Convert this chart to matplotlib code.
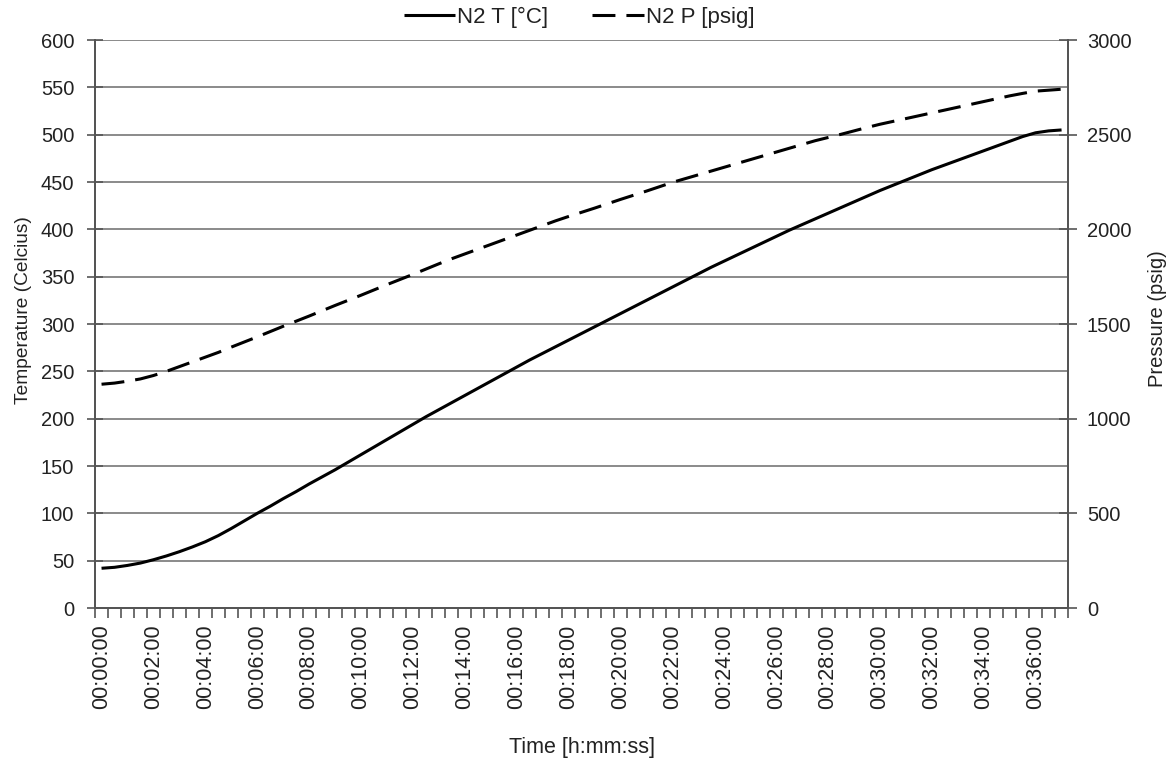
import matplotlib.pyplot as plt
from matplotlib.ticker import MultipleLocator, FixedLocator

plt.rcParams['font.family'] = ['Liberation Sans', 'DejaVu Sans']

# N2 temperature [°C], one reading every 30 s from 00:00:00 to 00:37:00
n2_temp = [42, 43, 45, 47.5, 51, 55, 59.5, 64.5, 70, 76.5,
           84, 92, 100, 107.5, 115.5, 123, 131, 138.5, 146, 154,
           162, 170, 178, 186, 194, 202, 209.5, 217, 224.5, 232,
           239.5, 247, 254.5, 262, 269, 276, 283, 290, 297, 304,
           311, 318, 325, 332, 339, 346, 353, 360, 366.5, 373,
           379.5, 386, 392.5, 399, 405, 411, 417, 423, 429, 435,
           441, 446.5, 452, 457.5, 463, 468, 473, 478, 483, 488,
           493, 498, 502, 504, 505]

# N2 pressure [psig], same time steps
n2_pres = [1182, 1188, 1198, 1210, 1228, 1250, 1275, 1300, 1325, 1350,
           1378, 1405, 1432, 1460, 1488, 1515, 1542, 1570, 1598, 1625,
           1652, 1680, 1708, 1735, 1762, 1790, 1818, 1845, 1870, 1895,
           1920, 1945, 1970, 1995, 2020, 2045, 2068, 2090, 2112, 2135,
           2158, 2180, 2202, 2225, 2248, 2268, 2288, 2308, 2328, 2348,
           2368, 2388, 2408, 2428, 2448, 2468, 2485, 2502, 2520, 2538,
           2555, 2570, 2585, 2600, 2615, 2630, 2645, 2660, 2675, 2690,
           2705, 2718, 2730, 2735, 2740]

time_labels = ['00:00:00', '00:02:00', '00:04:00', '00:06:00', '00:08:00',
               '00:10:00', '00:12:00', '00:14:00', '00:16:00', '00:18:00',
               '00:20:00', '00:22:00', '00:24:00', '00:26:00', '00:28:00',
               '00:30:00', '00:32:00', '00:34:00', '00:36:00']
label_every = 4  # one label every 2 minutes (4 samples)

fs = 14.5
txt = '#222222'
axc = '#555555'

fig = plt.figure(figsize=(11.72, 7.65), dpi=100)
ax = fig.add_axes([0.0811, 0.2052, 0.8302, 0.7425])
ax2 = ax.twinx()

x = list(range(len(n2_temp)))
l1, = ax.plot(x, n2_temp, color='black', lw=2.2, solid_capstyle='butt', label='N2 T [°C]')
l2, = ax2.plot(x, n2_pres, color='black', lw=2.2, label='N2 P [psig]')
l2.set_dashes((7.5, 3.6))

ax.set_xlim(-0.5, len(n2_temp) - 0.5)
ax.set_ylim(0, 600)
ax2.set_ylim(0, 3000)
ax.yaxis.set_major_locator(MultipleLocator(50))
ax2.yaxis.set_major_locator(MultipleLocator(500))

ax.set_xticks([i * label_every for i in range(len(time_labels))])
ax.set_xticklabels(time_labels, rotation=90, fontsize=15.5, color=txt)
ax.xaxis.set_minor_locator(FixedLocator([i - 0.5 for i in range(len(n2_temp) + 1)]))
ax.tick_params(axis='x', which='major', length=0, pad=12)
ax.tick_params(axis='x', which='minor', length=7, width=1.2, color=axc, direction='out')
ax.tick_params(axis='y', which='major', length=12, width=1.2, color=axc,
               direction='inout', labelsize=fs, labelcolor=txt, pad=9)
ax2.tick_params(axis='y', which='major', length=13, width=1.2, color=axc,
                direction='inout', labelsize=fs, labelcolor=txt, pad=7)

ax.grid(axis='y', color='#8a8a8a', lw=1.4)
ax.set_axisbelow(True)

for a in (ax, ax2):
    a.spines['top'].set_visible(False)
    for s in ('left', 'right', 'bottom'):
        a.spines[s].set_color(axc)
        a.spines[s].set_linewidth(1.4)

ax.set_ylabel('Temperature (Celcius)', fontsize=13.8, color=txt)
ax.yaxis.set_label_coords(-0.0647, 0.525)
ax2.set_ylabel('Pressure (psig)', fontsize=fs, color=txt)
ax2.yaxis.set_label_coords(1.0822, 0.509)
ax.set_xlabel('Time [h:mm:ss]', fontsize=15.5, color=txt, labelpad=20)

fig.legend(handles=[l1, l2], loc='center', bbox_to_anchor=(0.494, 0.977), ncol=2,
           frameon=False, fontsize=16, handlelength=2.3, handletextpad=0.1,
           columnspacing=2.0, labelcolor=txt)

fig.savefig('out.png', dpi=100)
